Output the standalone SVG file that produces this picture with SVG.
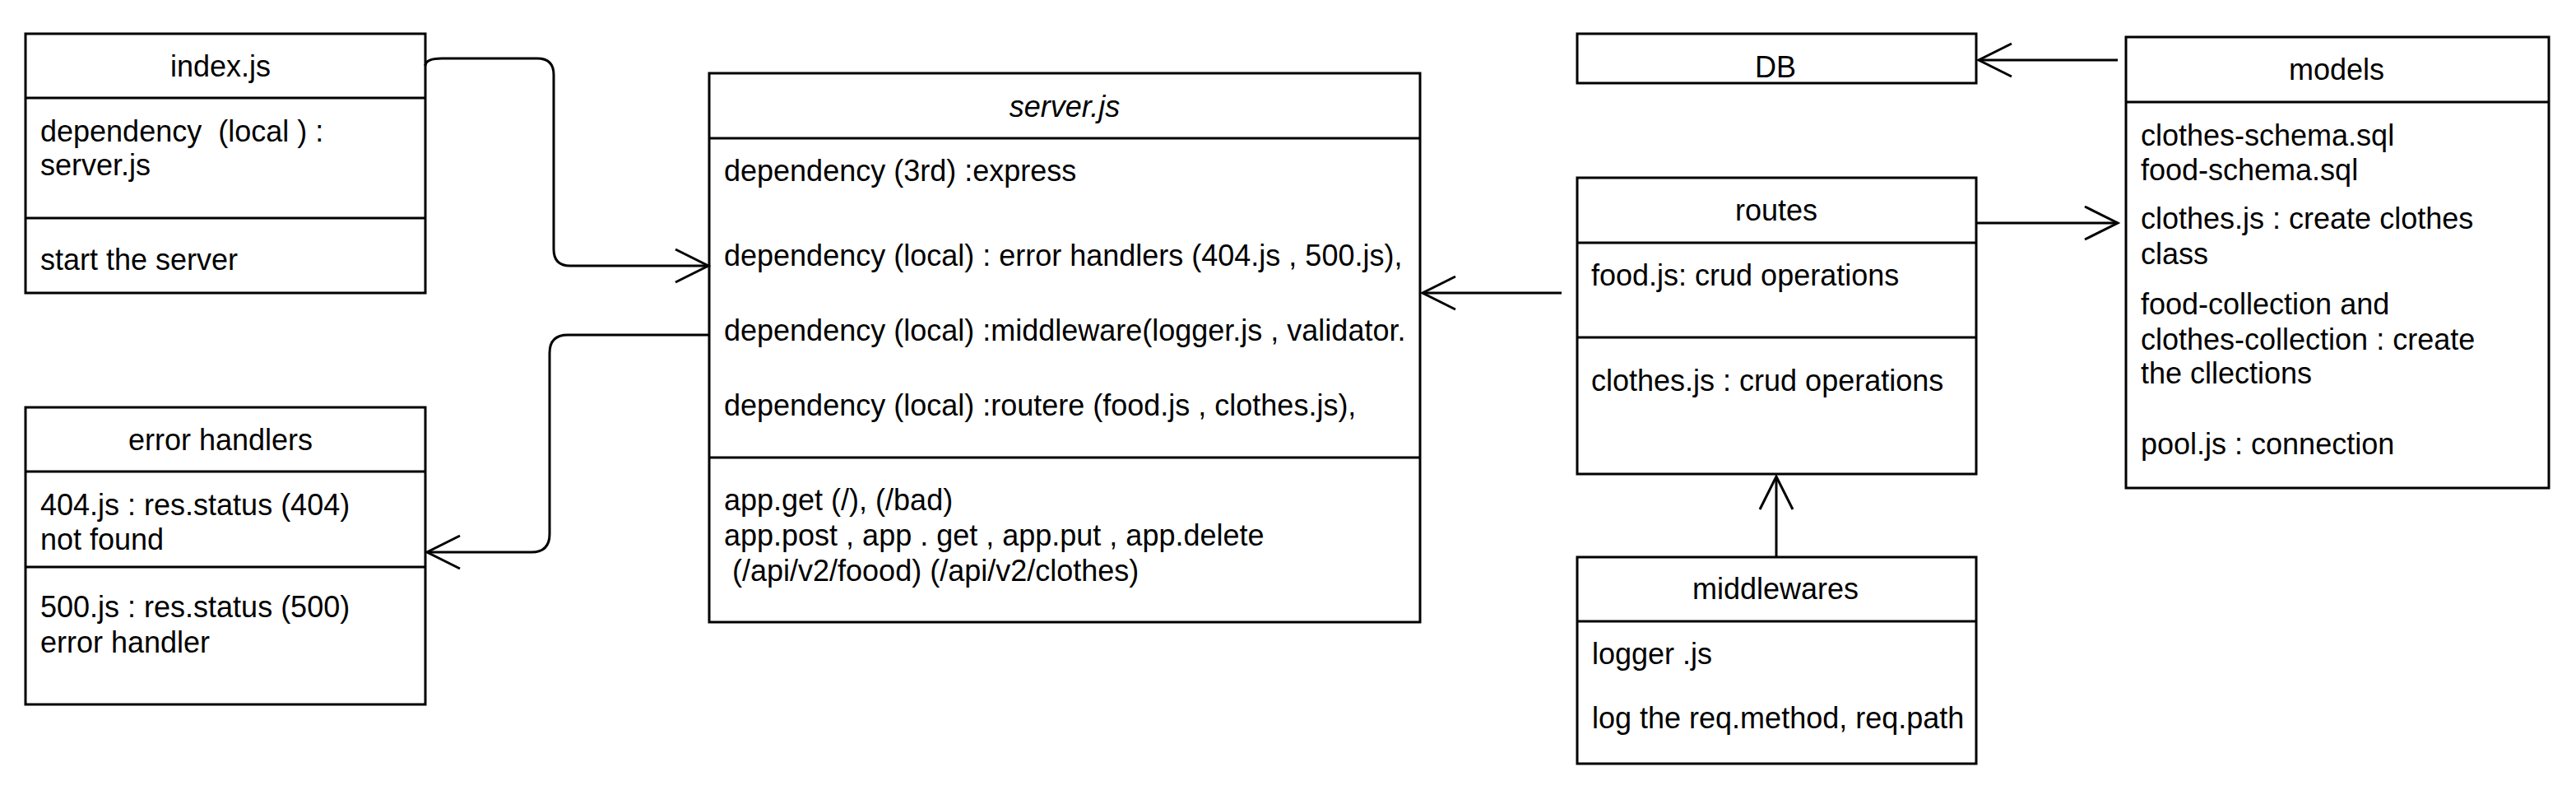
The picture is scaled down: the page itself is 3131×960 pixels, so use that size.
<svg xmlns="http://www.w3.org/2000/svg" width="3131" height="960" viewBox="0 0 3131 960">
<style>
.box{fill:#fff;stroke:#000;stroke-width:3}
.div{stroke:#000;stroke-width:3}
.t{font-family:"Liberation Sans",Arial,Helvetica,sans-serif;font-size:36px;fill:#000;white-space:pre}
.c{text-anchor:middle}
.i{font-style:italic}
.conn{fill:none;stroke:#000;stroke-width:3;marker-end:url(#open)}
</style>
<defs>
<marker id="open" viewBox="-46 -25 50 50" refX="0" refY="0" markerWidth="50" markerHeight="50" markerUnits="userSpaceOnUse" orient="auto">
<path d="M-40,-20 L0,0 L-40,20" fill="none" stroke="#000" stroke-width="3"/>
</marker>
</defs>
<rect width="3131" height="960" fill="#fff"/>

<g id="index-js">
<rect class="box" x="31" y="41" width="486" height="315"/>
<line class="div" x1="31" y1="119" x2="517" y2="119"/>
<line class="div" x1="31" y1="265" x2="517" y2="265"/>
<text class="t c" x="268" y="93">index.js</text>
<text class="t" x="49" y="172">dependency  (local ) :</text>
<text class="t" x="49" y="213">server.js</text>
<text class="t" x="49" y="328">start the server</text>
</g>

<g id="error-handlers">
<rect class="box" x="31" y="495" width="486" height="361"/>
<line class="div" x1="31" y1="573" x2="517" y2="573"/>
<line class="div" x1="31" y1="689" x2="517" y2="689"/>
<text class="t c" x="268" y="547">error handlers</text>
<text class="t" x="49" y="626">404.js : res.status (404)</text>
<text class="t" x="49" y="668">not found</text>
<text class="t" x="49" y="750">500.js : res.status (500)</text>
<text class="t" x="49" y="793">error handler</text>
</g>

<g id="server-js">
<rect class="box" x="862" y="89" width="864" height="667"/>
<line class="div" x1="862" y1="168" x2="1726" y2="168"/>
<line class="div" x1="862" y1="556" x2="1726" y2="556"/>
<text class="t c i" x="1294" y="142">server.js</text>
<text class="t" x="880" y="220">dependency (3rd) :express</text>
<text class="t" x="880" y="323">dependency (local) : error handlers (404.js , 500.js),</text>
<text class="t" x="880" y="414">dependency (local) :middleware(logger.js , validator.</text>
<text class="t" x="880" y="505">dependency (local) :routere (food.js , clothes.js),</text>
<text class="t" x="880" y="620">app.get (/), (/bad)</text>
<text class="t" x="880" y="663">app.post , app . get , app.put , app.delete</text>
<text class="t" x="880" y="706"> (/api/v2/foood) (/api/v2/clothes)</text>
</g>

<g id="db">
<rect class="box" x="1917" y="41" width="485" height="60"/>
<text class="t c" x="2158" y="94">DB</text>
</g>

<g id="routes">
<rect class="box" x="1917" y="216" width="485" height="360"/>
<line class="div" x1="1917" y1="295" x2="2402" y2="295"/>
<line class="div" x1="1917" y1="410" x2="2402" y2="410"/>
<text class="t c" x="2159" y="268">routes</text>
<text class="t" x="1934" y="347">food.js: crud operations</text>
<text class="t" x="1934" y="475">clothes.js : crud operations</text>
</g>

<g id="models">
<rect class="box" x="2584" y="45" width="514" height="548"/>
<line class="div" x1="2584" y1="124" x2="3098" y2="124"/>
<text class="t c" x="2840" y="97">models</text>
<text class="t" x="2602" y="177">clothes-schema.sql</text>
<text class="t" x="2602" y="219">food-schema.sql</text>
<text class="t" x="2602" y="278">clothes.js : create clothes</text>
<text class="t" x="2602" y="321">class</text>
<text class="t" x="2602" y="382">food-collection and</text>
<text class="t" x="2602" y="425">clothes-collection : create</text>
<text class="t" x="2602" y="466">the cllections</text>
<text class="t" x="2602" y="552">pool.js : connection</text>
</g>

<g id="middlewares">
<rect class="box" x="1917" y="677" width="485" height="251"/>
<line class="div" x1="1917" y1="755" x2="2402" y2="755"/>
<text class="t c" x="2158" y="728">middlewares</text>
<text class="t" x="1935" y="807">logger .js</text>
<text class="t" x="1935" y="885">log the req.method, req.path</text>
</g>

<g id="connectors">
<path class="conn" d="M517,80 Q517,71 537,71 L653,71 Q673,71 673,91 L673,303 Q673,323 693,323 L861,323"/>
<path class="conn" d="M862,407 L690,407 Q668,407 668,429 L668,649 Q668,671 646,671 L519,671"/>
<path class="conn" d="M1898,356 L1729,356"/>
<path class="conn" d="M2574,73 L2405,73"/>
<path class="conn" d="M2402,271 L2574,271"/>
<path class="conn" d="M2159,677 L2159,579"/>
</g>
</svg>
